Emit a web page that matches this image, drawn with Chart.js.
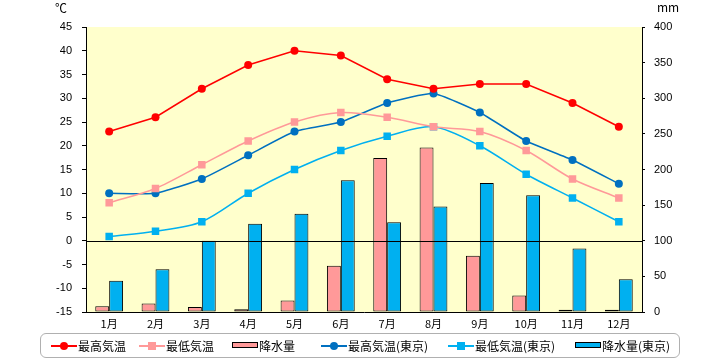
<!DOCTYPE html>
<html><head><meta charset="utf-8">
<script src="https://cdn.jsdelivr.net/npm/chart.js@4"></script>
<style>
html,body{margin:0;padding:0;background:#fff;}
#wrap{position:relative;width:720px;height:360px;}
canvas{position:absolute;left:0;top:0;}
.unit{position:absolute;font:12px "Noto Sans CJK JP";color:#000;line-height:14px;}
#legend{position:absolute;left:40px;top:333px;width:638px;height:23px;border:1.5px solid #b0b0b0;border-radius:6px;}
.item{position:absolute;top:0;height:23px;display:flex;align-items:center;font:12px "Noto Sans CJK JP";white-space:nowrap;color:#000;}
.sym{position:relative;width:26px;height:23px;margin-right:1px;}
.ln{position:absolute;left:0;right:0;top:11px;height:1.5px;}
.dot{position:absolute;left:9px;top:7.5px;width:8px;height:8px;border-radius:50%;}
.sq{position:absolute;left:9px;top:7.5px;width:8px;height:8px;}
.rc{position:absolute;left:0;top:8px;width:24px;height:4px;border:1.5px solid #000;}
</style>
</head><body>
<div id="wrap">
<canvas id="c" width="720" height="360"></canvas>
<div class="unit" style="left:55px;top:1px;">℃</div>
<div class="unit" style="left:657px;top:0px;">mm</div>
<div id="legend"></div>
</div>
<script>
const months = ['1月','2月','3月','4月','5月','6月','7月','8月','9月','10月','11月','12月'];
const seriesNames = ['最高気温','最低気温','降水量','最高気温(東京)','最低気温(東京)','降水量(東京)'];
const localMax = [23,26,32,37,40,39,34,32,33,33,29,24];
const localMin = [8,11,16,21,25,27,26,24,23,19,13,9];
const localPrecip = [8,12,7,4,16,65,216,231,79,23,3,3];
const tokyoMax = [10,10,13,18,23,25,29,31,27,21,17,12];
const tokyoMin = [0.9,2,4,10,15,19,22,24,20,14,9,4];
const tokyoPrecip = [44,60,100,124,138,185,126,148,181,164,89,46];
const tempTicks = {min:-15, max:45, step:5};
const rainTicks = {min:0, max:400, step:50};

const colors = ['#FF0000','#FF9999','#FF9999','#0070C0','#00B0F0','#00B0F0'];

const bgPlugin = {
  id:'bg',
  beforeDraw(chart){
    const {ctx, chartArea:a} = chart;
    ctx.save();
    ctx.fillStyle = '#FFFFCC';
    ctx.fillRect(a.left, a.top, a.right-a.left, a.bottom-a.top);
    ctx.restore();
  },
  afterDatasetsDraw(chart){
    const {ctx, chartArea:a, scales} = chart;
    const y0 = Math.round(scales.y.getPixelForValue(0)) + 0.5;
    ctx.save();
    ctx.strokeStyle = '#000';
    ctx.lineWidth = 1;
    ctx.beginPath();
    ctx.moveTo(a.left, y0);
    ctx.lineTo(a.right, y0);
    ctx.stroke();
    ctx.restore();
  }
};

const tickFont = {family:'"Liberation Sans", "Noto Sans CJK JP"', size:11};
const xFont = {family:'"Noto Sans CJK JP"', size:11};

new Chart(document.getElementById('c'), {
  data:{
    labels:months,
    datasets:[
      {type:'line', label:seriesNames[0], data:localMax, yAxisID:'y', borderColor:colors[0], backgroundColor:colors[0], borderWidth:1.5, pointStyle:'circle', pointRadius:4, pointBorderWidth:0, tension:0, order:1},
      {type:'line', label:seriesNames[1], data:localMin, yAxisID:'y', borderColor:colors[1], backgroundColor:colors[1], borderWidth:1.5, pointStyle:'rect', pointRadius:5.3, pointBorderWidth:0, tension:0.3, order:1},
      {type:'bar', label:seriesNames[2], data:localPrecip, yAxisID:'y1', backgroundColor:colors[2], borderColor:'#000', borderWidth:1, borderSkipped:false, order:2, categoryPercentage:0.6, barPercentage:1},
      {type:'line', label:seriesNames[3], data:tokyoMax, yAxisID:'y', borderColor:colors[3], backgroundColor:colors[3], borderWidth:1.5, pointStyle:'circle', pointRadius:4, pointBorderWidth:0, tension:0.15, order:1},
      {type:'line', label:seriesNames[4], data:tokyoMin, yAxisID:'y', borderColor:colors[4], backgroundColor:colors[4], borderWidth:1.5, pointStyle:'rect', pointRadius:5.3, pointBorderWidth:0, tension:0.3, order:1},
      {type:'bar', label:seriesNames[5], data:tokyoPrecip, yAxisID:'y1', backgroundColor:colors[5], borderColor:'#000', borderWidth:1, borderSkipped:false, order:2, categoryPercentage:0.6, barPercentage:1}
    ]
  },
  options:{
    responsive:false, animation:false,
    layout:{padding:{top:27,left:0,right:0,bottom:0}},
    plugins:{legend:{display:false}, tooltip:{enabled:false}},
    scales:{
      x:{
        offset:true,
        grid:{display:false, drawTicks:false},
        border:{display:true, color:'#000', width:1},
        ticks:{font:xFont, color:'#000', padding:5, maxRotation:0},
        afterFit(s){ s.height = 48; }
      },
      y:{
        position:'left', min:tempTicks.min, max:tempTicks.max,
        ticks:{stepSize:tempTicks.step, font:tickFont, color:'#000', padding:10},
        grid:{drawOnChartArea:false, color:'#000', tickLength:4},
        border:{display:true, color:'#000', width:1},
        afterFit(s){ s.width = 86; }
      },
      y1:{
        position:'right', min:rainTicks.min, max:rainTicks.max,
        ticks:{stepSize:rainTicks.step, font:tickFont, color:'#000', padding:9},
        grid:{drawOnChartArea:false, color:'#000', tickLength:3},
        border:{display:true, color:'#000', width:1},
        afterFit(s){ s.width = 78; }
      }
    }
  },
  plugins:[bgPlugin]
});

// HTML legend
const legendX = [10, 98, 191, 280, 407, 534];
const kinds = ['dot','sq','rc','dot','sq','rc'];
const leg = document.getElementById('legend');
seriesNames.forEach((name, i) => {
  const it = document.createElement('div');
  it.className = 'item';
  it.style.left = legendX[i] + 'px';
  const sym = document.createElement('div');
  sym.className = 'sym';
  if (kinds[i] === 'rc') {
    const r = document.createElement('div'); r.className = 'rc'; r.style.background = colors[i]; sym.appendChild(r);
  } else {
    const l = document.createElement('div'); l.className = 'ln'; l.style.background = colors[i]; sym.appendChild(l);
    const m = document.createElement('div'); m.className = kinds[i]; m.style.background = colors[i]; sym.appendChild(m);
  }
  it.appendChild(sym);
  const t = document.createElement('span'); t.textContent = name; it.appendChild(t);
  leg.appendChild(it);
});
</script>
</body></html>
